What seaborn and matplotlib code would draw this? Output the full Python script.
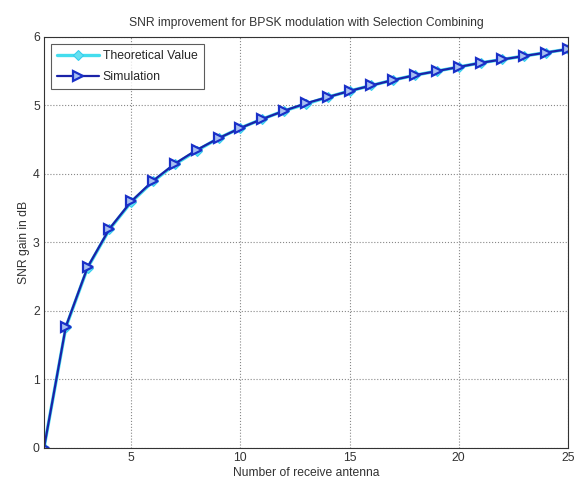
import matplotlib
matplotlib.use("Agg")
import matplotlib.pyplot as plt
import seaborn as sns
import pandas as pd

antennas = list(range(1, 26))
theory_db = [0.00, 1.76, 2.63, 3.19, 3.59, 3.89, 4.14, 4.34, 4.52, 4.67,
             4.80, 4.92, 5.02, 5.12, 5.21, 5.29, 5.37, 5.44, 5.50, 5.56,
             5.62, 5.67, 5.72, 5.77, 5.82]
sim_db = [0.00, 1.77, 2.64, 3.20, 3.60, 3.90, 4.15, 4.35, 4.52, 4.67,
          4.80, 4.92, 5.03, 5.12, 5.21, 5.29, 5.37, 5.44, 5.50, 5.56,
          5.62, 5.67, 5.72, 5.77, 5.82]
xticks = [5, 10, 15, 20, 25]
yticks = [0, 1, 2, 3, 4, 5, 6]

sns.set_style("white")
plt.rcParams['font.family'] = ['Liberation Sans', 'DejaVu Sans']

fig = plt.figure(figsize=(5.75, 4.93), dpi=100)
ax = fig.add_axes([0.0765, 0.0913, 0.911, 0.834])

df_t = pd.DataFrame({"N": antennas, "gain": theory_db})
df_s = pd.DataFrame({"N": antennas, "gain": sim_db})

sns.lineplot(data=df_t, x="N", y="gain", ax=ax, color="#44ddee", lw=2.4,
             marker="D", markersize=5.5, markerfacecolor="#66e0f0",
             markeredgecolor="#33ccee", label="Theoretical Value")
sns.lineplot(data=df_s, x="N", y="gain", ax=ax, color="#1a22a8", lw=1.6,
             marker=">", markersize=7, markerfacecolor="#a8c0f0",
             markeredgecolor="#1a30c8", markeredgewidth=1.6, label="Simulation")

ax.set_xlim(1, 25)
ax.set_ylim(0, 6)
ax.set_xticks(xticks)
ax.set_yticks(yticks)
ax.grid(True, linestyle=":", color="#888888", lw=0.8)
ax.tick_params(direction="in", length=4, labelsize=8.8, colors="#333333", pad=3)
for s in ax.spines.values():
    s.set_color("#333333")
    s.set_linewidth(0.8)
ax.set_title("SNR improvement for BPSK modulation with Selection Combining",
             fontsize=8.7, color="#333333", pad=8)
ax.set_xlabel("Number of receive antenna", fontsize=8.7, color="#333333", labelpad=2)
ax.set_ylabel("SNR gain in dB", fontsize=8.7, color="#333333", labelpad=2)
leg = ax.legend(loc="upper left", fontsize=8.8, frameon=True, fancybox=False,
                edgecolor="#333333", borderaxespad=0.6, handlelength=3.4,
                labelspacing=0.7, borderpad=0.5, handletextpad=0.3)
leg.get_frame().set_linewidth(0.8)

fig.savefig("out.png", dpi=100)
